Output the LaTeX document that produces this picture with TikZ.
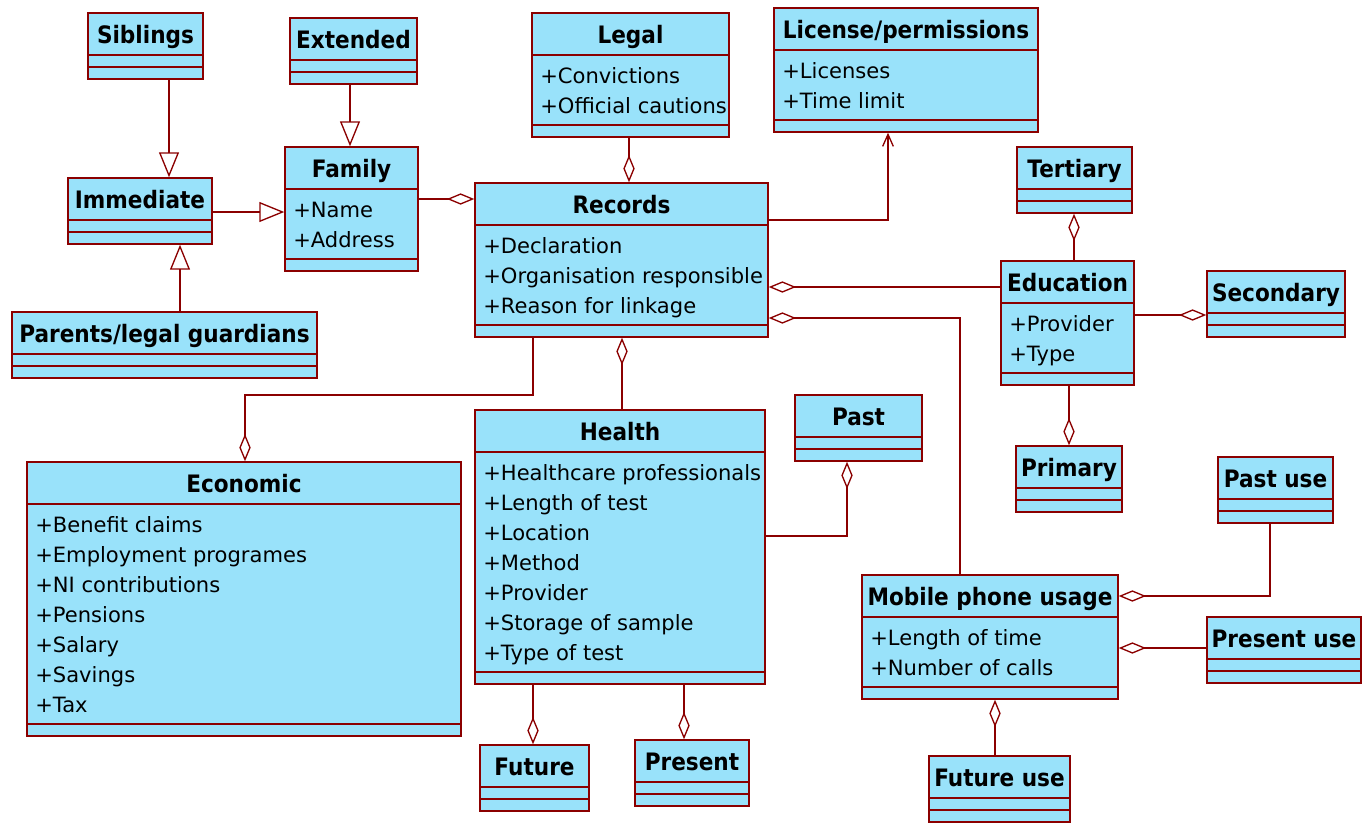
\documentclass[tikz,border=0pt]{standalone}
\usepackage{fontspec}
\setmainfont{DejaVu Sans}
\newfontfamily\titlefont{DejaVu Sans}[FakeStretch=0.9]
\usetikzlibrary{arrows.meta,fit,calc}
\definecolor{umlfill}{HTML}{99E2FA}
\definecolor{umlline}{HTML}{8B0000}
\tikzset{
  clsbox/.style={draw=umlline, fill=umlfill, line width=1.1pt, inner sep=0pt},
  clsline/.style={draw=umlline, line width=1.1pt},
  ctitle/.style={font=\titlefont\bfseries\fontsize{18pt}{20pt}\selectfont, anchor=base, inner sep=0pt},
  cattr/.style={font=\fontsize{15.8pt}{18pt}\selectfont, anchor=base west, inner sep=0pt},
  conn/.style={draw=umlline, line width=1pt},
  gen/.style={conn, -{Triangle[open, length=18.75pt, width=15pt]}},
  agg/.style={conn, -{Diamond[open, length=20.5pt, width=8.5pt]}},
  dep/.style={conn, -{Straight Barb[length=9pt, width=8pt]}},
}
% name, x, y, w, title
\newcommand\simplecls[5]{%
  \node[clsbox, fit={(#2,#3) (#2+#4,#3+66)}] (#1) {};
  \draw[clsline] (#2,#3+42) -- ++(#4,0) (#2,#3+54) -- ++(#4,0);
  \node[ctitle] at (#2+#4/2,#3+30) {#5};
}
% name, x, y, w, title, n, attrs
\newcommand\attrcls[7]{%
  \node[clsbox, fit={(#2,#3) (#2+#4,#3+64+30*#6)}] (#1) {};
  \draw[clsline] (#2,#3+42) -- ++(#4,0) (#2,#3+52+30*#6) -- ++(#4,0);
  \node[ctitle] at (#2+#4/2,#3+30) {#5};
  \foreach \a [count=\i] in {#7} \node[cattr] at (#2+8,#3+40.5+30*\i) {\a};
}
\begin{document}
\begin{tikzpicture}[x=0.75pt,y=-0.75pt]
\useasboundingbox (0,0) rectangle (1362,822);

\simplecls{sib}{88}{13}{115}{Siblings}
\simplecls{ext}{290}{18}{127}{Extended}
\attrcls{fam}{285}{147}{133}{Family}{2}{+Name,+Address}
\simplecls{imm}{68}{178}{144}{Immediate}
\simplecls{par}{12}{312}{305}{Parents/legal guardians}
\attrcls{leg}{532}{13}{197}{Legal}{2}{+Convictions,+Official cautions}
\attrcls{lic}{774}{8}{264}{License/permissions}{2}{+Licenses,+Time limit}
\attrcls{rec}{475}{183}{293}{Records}{3}{+Declaration,+Organisation responsible,+Reason for linkage}
\simplecls{ter}{1017}{147}{115}{Tertiary}
\attrcls{edu}{1001}{261}{133}{Education}{2}{+Provider,+Type}
\simplecls{sec}{1207}{271}{138}{Secondary}
\simplecls{pri}{1016}{446}{106}{Primary}
\simplecls{pu}{1218}{457}{115}{Past use}
\attrcls{eco}{27}{462}{434}{Economic}{7}{+Benefit claims,+Employment programes,+NI contributions,+Pensions,+Salary,+Savings,+Tax}
\attrcls{hea}{475}{410}{290}{Health}{7}{+Healthcare professionals,+Length of test,+Location,+Method,+Provider,+Storage of sample,+Type of test}
\simplecls{past}{795}{395}{127}{Past}
\simplecls{fut}{480}{745}{109}{Future}
\simplecls{pre}{635}{740}{114}{Present}
\attrcls{mob}{862}{575}{256}{Mobile phone usage}{2}{+Length of time,+Number of calls}
\simplecls{pru}{1207}{617}{154}{Present use}
\simplecls{fu}{929}{756}{141}{Future use}

% generalisations
\draw[gen] (sib.south -| 169,0) -- (imm.north -| 169,0);
\draw[gen] (ext.south -| 350,0) -- (fam.north -| 350,0);
\draw[gen] (imm.east |- 0,212) -- (fam.west |- 0,212);
\draw[gen] (par.north -| 180,0) -- (imm.south -| 180,0);

% aggregations and dependency
\draw[agg] (fam.east |- 0,199) -- (rec.west |- 0,199);
\draw[agg] (leg.south -| 629,0) -- (rec.north -| 629,0);
\draw[dep] (rec.east |- 0,220) -| (lic.south -| 888,0);
\draw[agg] (edu.west |- 0,287) -- (rec.east |- 0,287);
\draw[agg] (mob.north -| 960,0) |- (rec.east |- 0,318);
\draw[agg] (edu.north -| 1074,0) -- (ter.south -| 1074,0);
\draw[agg] (edu.east |- 0,315) -- (sec.west |- 0,315);
\draw[agg] (edu.south -| 1069,0) -- (pri.north -| 1069,0);
\coordinate (ecobend) at (245,395);
\draw[agg] (rec.south -| 533,0) |- (ecobend) -- (eco.north -| ecobend);
\draw[agg] (hea.north -| 622,0) -- (rec.south -| 622,0);
\draw[agg] (hea.east |- 0,536) -| (past.south -| 847,0);
\draw[agg] (hea.south -| 533,0) -- (fut.north -| 533,0);
\draw[agg] (hea.south -| 684,0) -- (pre.north -| 684,0);
\draw[agg] (pu.south -| 1270,0) |- (mob.east |- 0,596);
\draw[agg] (pru.west |- 0,648) -- (mob.east |- 0,648);
\draw[agg] (fu.north -| 995,0) -- (mob.south -| 995,0);
\end{tikzpicture}
\end{document}
